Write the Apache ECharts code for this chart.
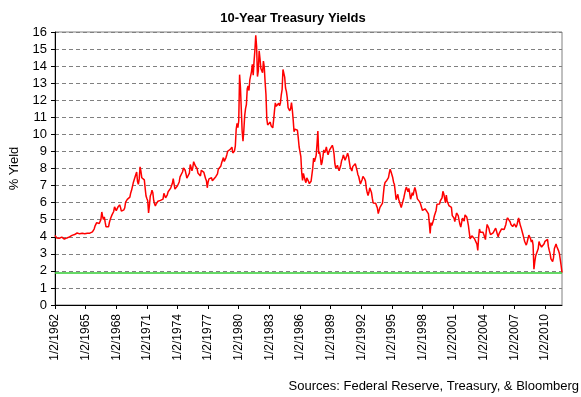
<!DOCTYPE html>
<html>
<head>
<meta charset="utf-8">
<script src="https://cdn.jsdelivr.net/npm/echarts@6/dist/echarts.min.js"></script>
<style>
  html, body { margin: 0; padding: 0; background: #fff; }
  #chart { width: 581px; height: 397px; }
</style>
</head>
<body>
<div id="chart"></div>
<script>
// monthly 10-year yields (%), Jan 1962 .. Sep 2011
const startYear = 1962
const yields1960s = [
  4.08, 4.04, 3.93, 3.84, 3.87, 3.91, 4.01, 3.98, 3.98, 3.93, 3.92, 3.86,
  3.83, 3.92, 3.93, 3.97, 3.93, 3.99, 4.02, 4.00, 4.08, 4.11, 4.12, 4.13,
  4.17, 4.15, 4.22, 4.23, 4.20, 4.17, 4.19, 4.19, 4.20, 4.19, 4.15, 4.18,
  4.19, 4.21, 4.21, 4.20, 4.21, 4.21, 4.20, 4.25, 4.29, 4.35, 4.45, 4.62,
  4.61, 4.83, 4.87, 4.75, 4.78, 4.81, 5.02, 5.45, 5.18, 5.01, 5.16, 4.84,
  4.58, 4.63, 4.54, 4.59, 4.85, 5.02, 5.16, 5.28, 5.30, 5.48, 5.75, 5.70,
  5.53, 5.56, 5.74, 5.64, 5.87, 5.72, 5.50, 5.42, 5.46, 5.58, 5.70, 6.03,
  6.04, 6.19, 6.30, 6.17, 6.32, 6.57, 6.72, 6.69, 7.16, 7.10, 7.14, 7.65
]
const yields1970s = [
  7.79, 7.24, 7.07, 7.39, 8.10, 7.84, 7.46, 7.53, 7.39, 7.33, 6.84, 6.39,
  6.24, 6.11, 5.40, 5.83, 6.39, 6.52, 6.73, 6.58, 6.14, 5.93, 5.81, 5.93,
  5.95, 6.08, 6.07, 6.19, 6.13, 6.11, 6.11, 6.21, 6.55, 6.48, 6.28, 6.36,
  6.46, 6.64, 6.71, 6.67, 6.85, 6.90, 7.13, 7.40, 7.09, 6.79, 6.73, 6.74,
  6.99, 6.96, 7.21, 7.51, 7.58, 7.54, 7.81, 8.04, 8.04, 7.90, 7.68, 7.43,
  7.50, 7.39, 7.73, 8.23, 8.06, 7.86, 8.06, 8.40, 8.43, 8.15, 8.05, 8.00,
  7.74, 7.79, 7.73, 7.56, 7.90, 7.86, 7.83, 7.77, 7.59, 7.41, 7.29, 6.87,
  7.21, 7.39, 7.46, 7.37, 7.46, 7.28, 7.33, 7.40, 7.34, 7.52, 7.58, 7.69,
  7.96, 8.03, 8.04, 8.15, 8.35, 8.46, 8.64, 8.41, 8.42, 8.64, 8.81, 9.01,
  9.10, 9.10, 9.12, 9.18, 9.25, 8.91, 8.95, 9.03, 9.33, 10.30, 10.65, 10.39
]
const yields1980s = [
  10.80, 13.50, 12.75, 11.47, 10.18, 9.60, 10.25, 11.10, 11.51, 11.75, 12.68, 12.84,
  12.57, 13.19, 13.12, 13.68, 14.10, 13.47, 14.28, 14.94, 15.80, 15.15, 13.39, 13.72,
  14.90, 14.43, 13.86, 13.87, 13.62, 14.30, 13.95, 13.06, 12.34, 10.91, 10.55, 10.54,
  10.46, 10.72, 10.51, 10.40, 10.38, 10.85, 11.38, 11.85, 11.65, 11.54, 11.69, 11.83,
  11.67, 11.84, 12.32, 12.63, 13.80, 13.90, 13.36, 12.72, 12.52, 12.16, 11.57, 11.50,
  11.38, 11.51, 11.86, 11.43, 10.85, 10.16, 10.31, 10.33, 10.37, 10.24, 9.78, 9.26,
  9.19, 8.70, 7.78, 7.30, 7.71, 7.80, 7.30, 7.17, 7.45, 7.43, 7.25, 7.11,
  7.08, 7.25, 7.25, 8.02, 8.61, 8.40, 8.45, 8.76, 9.42, 10.20, 8.86, 8.99,
  8.67, 8.21, 8.37, 8.72, 9.09, 8.92, 9.06, 9.26, 8.98, 8.80, 8.96, 9.11,
  9.09, 9.17, 9.36, 9.18, 8.86, 8.28, 8.02, 8.11, 8.19, 8.01, 7.87, 7.84
]
const yields1990s = [
  8.21, 8.47, 8.59, 8.79, 8.76, 8.48, 8.47, 8.75, 8.89, 8.72, 8.39, 8.08,
  8.09, 7.85, 8.11, 8.04, 8.07, 8.28, 8.27, 7.90, 7.65, 7.53, 7.42, 7.09,
  7.03, 7.34, 7.54, 7.48, 7.39, 7.26, 6.84, 6.59, 6.42, 6.59, 6.87, 6.77,
  6.60, 6.26, 5.98, 5.97, 6.04, 5.96, 5.81, 5.68, 5.36, 5.33, 5.72, 5.77,
  5.75, 5.97, 6.48, 6.97, 7.18, 7.10, 7.30, 7.24, 7.46, 7.74, 7.96, 7.81,
  7.78, 7.47, 7.20, 7.06, 6.63, 6.17, 6.28, 6.49, 6.20, 6.04, 5.93, 5.71,
  5.65, 5.81, 6.27, 6.51, 6.74, 6.91, 6.87, 6.64, 6.83, 6.53, 6.20, 6.30,
  6.58, 6.42, 6.69, 6.89, 6.71, 6.49, 6.22, 6.30, 6.21, 6.03, 5.88, 5.81,
  5.54, 5.57, 5.65, 5.64, 5.65, 5.50, 5.46, 5.34, 4.81, 4.20, 4.83, 4.65,
  4.72, 5.00, 5.23, 5.18, 5.54, 5.90, 5.79, 5.94, 5.92, 6.11, 6.03, 6.28
]
const yields2000s = [
  6.66, 6.52, 6.26, 5.99, 6.44, 6.10, 6.05, 5.83, 5.80, 5.74, 5.72, 5.24,
  5.16, 5.10, 4.89, 5.14, 5.39, 5.28, 5.24, 4.97, 4.73, 4.57, 4.65, 5.09,
  5.04, 4.91, 5.28, 5.21, 5.16, 4.93, 4.65, 4.26, 3.87, 3.94, 4.05, 4.03,
  4.05, 3.90, 3.81, 3.96, 3.57, 3.20, 3.98, 4.45, 4.27, 4.29, 4.30, 4.27,
  4.15, 4.08, 3.83, 4.35, 4.72, 4.73, 4.50, 4.28, 4.13, 4.10, 4.19, 4.23,
  4.22, 4.17, 4.50, 4.34, 4.14, 4.00, 4.18, 4.26, 4.20, 4.46, 4.54, 4.47,
  4.42, 4.57, 4.72, 4.99, 5.11, 5.11, 5.09, 4.88, 4.72, 4.73, 4.60, 4.56,
  4.76, 4.72, 4.56, 4.69, 4.75, 5.10, 5.00, 4.67, 4.52, 4.53, 4.15, 4.10,
  3.74, 3.74, 3.51, 3.68, 3.88, 4.10, 4.01, 3.89, 3.69, 3.81, 3.53, 2.10,
  2.52, 2.87, 2.82, 2.93, 3.29, 3.72, 3.56, 3.59, 3.40, 3.39, 3.40, 3.59
]
const yields2010s = [
  3.73, 3.69, 3.73, 3.85, 3.42, 3.20, 3.01, 2.70, 2.65, 2.54, 2.76, 3.29,
  3.39, 3.58, 3.41, 3.46, 3.17, 3.00, 3.00, 2.30, 1.90
]
const referenceLevel = 1.9
const tickYears = [1962, 1965, 1968, 1971, 1974, 1977, 1980, 1983, 1986, 1989, 1992, 1995, 1998, 2001, 2004, 2007, 2010]

const yields = [].concat(yields1960s, yields1970s, yields1980s, yields1990s, yields2000s, yields2010s)
const dates = yields.map((v, i) => {
  const y = startYear + Math.floor(i / 12)
  const m = i % 12 + 1
  return m === 1 ? '1/2/' + y : m + '/1/' + y
})
const tickLabels = tickYears.map(y => '1/2/' + y)
const showTick = (idx, val) => tickLabels.indexOf(val) !== -1

const font = 'Liberation Sans, Arial, sans-serif'
const myChart = echarts.init(document.getElementById('chart'))
myChart.setOption({
  animation: false,
  title: {
    text: '10-Year Treasury Yields',
    left: 288,
    top: 7,
    textAlign: 'center',
    textStyle: { fontFamily: font, fontSize: 13, fontWeight: 'bold', color: '#000' }
  },
  grid: {
    left: 55, right: 19, top: 32, bottom: 92,
    show: true, borderColor: '#808080', borderWidth: 1
  },
  xAxis: {
    type: 'category',
    data: dates,
    boundaryGap: false,
    axisLine: { lineStyle: { color: '#000', width: 1 } },
    axisTick: { show: true, length: 4, interval: showTick, lineStyle: { color: '#000' } },
    axisLabel: {
      interval: showTick,
      rotate: 90,
      margin: 9,
      hideOverlap: false,
      fontFamily: font, fontSize: 12, color: '#000'
    },
    splitLine: { show: false }
  },
  yAxis: {
    type: 'value',
    min: 0, max: 16, interval: 1,
    name: '% Yield',
    nameLocation: 'middle',
    nameGap: 34,
    nameTextStyle: { fontFamily: font, fontSize: 13, color: '#000' },
    axisLine: { show: true, lineStyle: { color: '#000', width: 1 } },
    axisTick: { show: true, length: 4, lineStyle: { color: '#000' } },
    axisLabel: { margin: 8, fontFamily: font, fontSize: 13, color: '#000' },
    splitLine: { lineStyle: { color: '#808080', type: [4, 3], width: 1 } }
  },
  series: [
    {
      type: 'line',
      data: yields,
      showSymbol: false,
      lineStyle: { color: '#ff0000', width: 1.5 },
      itemStyle: { color: '#ff0000' },
      markLine: {
        silent: true,
        symbol: 'none',
        label: { show: false },
        lineStyle: { color: '#33cc33', type: 'solid', width: 1.5 },
        data: [{ yAxis: referenceLevel }]
      }
    }
  ],
  graphic: [
    {
      type: 'text',
      right: 2,
      top: 380,
      style: {
        text: 'Sources: Federal Reserve, Treasury, & Bloomberg',
        fontFamily: font, fontSize: 13, fill: '#000'
      }
    }
  ]
})
</script>
</body>
</html>
